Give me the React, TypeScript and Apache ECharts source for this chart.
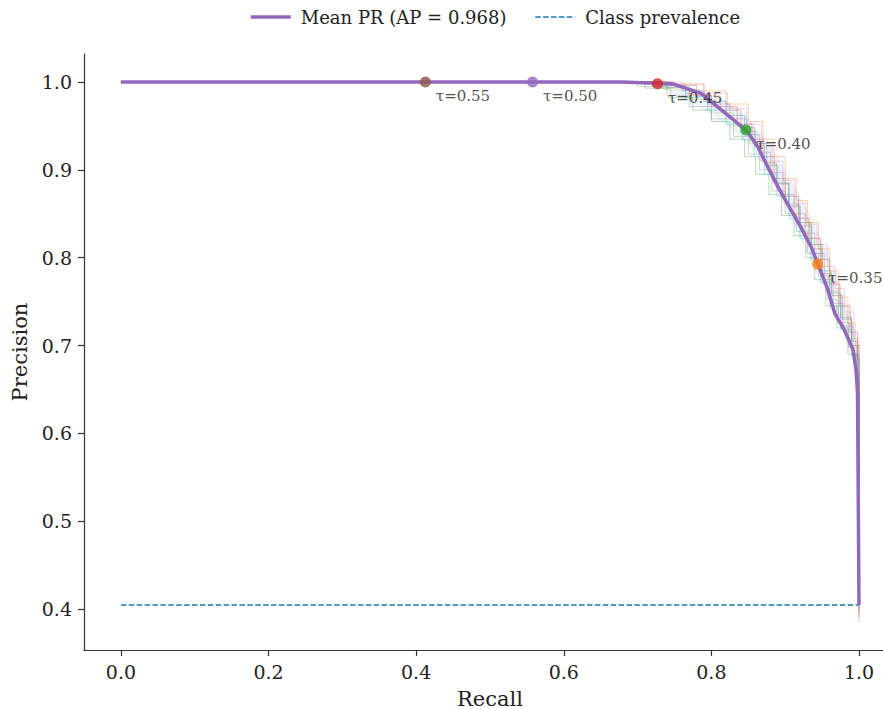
import React, { useEffect, useRef } from "react";
import * as echarts from "echarts";

const FONT = "'DejaVu Serif', serif";

// Mean PR curve (recall, precision)
const meanRecall = [0, 0.41, 0.557, 0.677, 0.727, 0.749, 0.786, 0.808, 0.83, 0.849, 0.863, 0.876, 0.89, 0.908, 0.921, 0.935, 0.944, 0.958, 0.967, 0.98, 0.992, 0.996, 0.998, 1.0];
const meanPrecision = [1, 1, 1, 1.0, 0.9985, 0.9977, 0.987, 0.972, 0.957, 0.943, 0.926, 0.904, 0.881, 0.854, 0.835, 0.8125, 0.7936, 0.763, 0.737, 0.718, 0.695, 0.672, 0.646, 0.4045];

// Class prevalence
const prevalence = 0.4045;

// Threshold markers
const tauLabels = ["τ=0.55", "τ=0.50", "τ=0.45", "τ=0.40", "τ=0.35"];
const tauRecall = [0.4125, 0.5577, 0.727, 0.8467, 0.944];
const tauPrecision = [1.0, 1.0, 0.998, 0.9453, 0.7928];
const tauColors = ["#8c564b", "#9467bd", "#d62728", "#2ca02c", "#ff7f0e"];

// Per-fold curves (thin, translucent)
const foldColors = ["#1f77b4", "#ff7f0e", "#2ca02c", "#d62728", "#9467bd", "#8c564b", "#e377c2", "#7f7f7f", "#bcbd22", "#17becf"];
const foldA = [[0, 1], [0.69, 1], [0.72, 0.996], [0.76, 0.99], [0.79, 0.978], [0.82, 0.962], [0.845, 0.944], [0.86, 0.93], [0.875, 0.905], [0.89, 0.885], [0.905, 0.86], [0.92, 0.84], [0.935, 0.815], [0.95, 0.785], [0.962, 0.76], [0.975, 0.732], [0.99, 0.705], [0.998, 0.67], [1, 0.64], [1, 0.405]];
const foldB = [[0, 1], [0.72, 1], [0.75, 0.998], [0.79, 0.99], [0.82, 0.975], [0.85, 0.955], [0.87, 0.935], [0.885, 0.915], [0.9, 0.89], [0.915, 0.865], [0.93, 0.84], [0.945, 0.81], [0.96, 0.785], [0.972, 0.755], [0.985, 0.725], [0.995, 0.7], [1, 0.665], [1, 0.39]];
const foldC = [[0, 1], [0.67, 1], [0.71, 0.993], [0.745, 0.982], [0.775, 0.968], [0.8, 0.955], [0.825, 0.935], [0.845, 0.915], [0.86, 0.895], [0.878, 0.872], [0.895, 0.848], [0.912, 0.825], [0.928, 0.8], [0.94, 0.775], [0.955, 0.745], [0.97, 0.72], [0.985, 0.69], [0.997, 0.66], [1, 0.63], [1, 0.41]];
const foldD = [[0, 1], [0.7, 1], [0.74, 0.994], [0.77, 0.985], [0.8, 0.972], [0.835, 0.952], [0.855, 0.935], [0.87, 0.915], [0.885, 0.89], [0.9, 0.87], [0.918, 0.845], [0.932, 0.822], [0.948, 0.798], [0.96, 0.77], [0.974, 0.745], [0.988, 0.715], [0.998, 0.685], [1, 0.65], [1, 0.395]];
const foldE = [[0, 1], [0.68, 1], [0.73, 0.997], [0.765, 0.987], [0.795, 0.975], [0.825, 0.958], [0.848, 0.94], [0.865, 0.92], [0.88, 0.897], [0.897, 0.872], [0.912, 0.85], [0.927, 0.828], [0.94, 0.805], [0.953, 0.775], [0.965, 0.748], [0.978, 0.722], [0.992, 0.69], [1, 0.655], [1, 0.4]];
const foldF = [[0, 1], [0.71, 1], [0.745, 0.996], [0.78, 0.984], [0.812, 0.968], [0.84, 0.948], [0.858, 0.928], [0.872, 0.908], [0.888, 0.884], [0.905, 0.858], [0.92, 0.836], [0.936, 0.81], [0.95, 0.782], [0.963, 0.757], [0.977, 0.73], [0.99, 0.7], [1, 0.67], [1, 0.385]];
const foldG = [[0, 1], [0.73, 1], [0.76, 0.997], [0.79, 0.987], [0.822, 0.97], [0.848, 0.952], [0.868, 0.93], [0.882, 0.91], [0.897, 0.888], [0.913, 0.862], [0.928, 0.838], [0.943, 0.815], [0.957, 0.79], [0.968, 0.765], [0.98, 0.738], [0.993, 0.708], [1, 0.68], [1, 0.405]];
const foldH = [[0, 1], [0.66, 1], [0.7, 0.995], [0.74, 0.985], [0.77, 0.972], [0.8, 0.958], [0.83, 0.938], [0.85, 0.918], [0.865, 0.9], [0.882, 0.876], [0.9, 0.85], [0.915, 0.83], [0.93, 0.805], [0.945, 0.78], [0.958, 0.752], [0.972, 0.726], [0.986, 0.698], [0.997, 0.668], [1, 0.64], [1, 0.41]];
const foldI = [[0, 1], [0.7, 1], [0.735, 0.992], [0.77, 0.98], [0.805, 0.965], [0.83, 0.95], [0.852, 0.93], [0.867, 0.91], [0.883, 0.887], [0.9, 0.862], [0.916, 0.84], [0.933, 0.815], [0.947, 0.79], [0.96, 0.762], [0.972, 0.735], [0.985, 0.708], [0.996, 0.678], [1, 0.645], [1, 0.4]];
const foldJ = [[0, 1], [0.69, 1], [0.73, 0.994], [0.765, 0.983], [0.795, 0.968], [0.82, 0.952], [0.842, 0.934], [0.858, 0.915], [0.872, 0.895], [0.888, 0.87], [0.905, 0.845], [0.92, 0.822], [0.935, 0.798], [0.948, 0.772], [0.96, 0.745], [0.975, 0.718], [0.99, 0.688], [0.999, 0.66], [1, 0.635], [1, 0.405]];
const folds = [foldA, foldB, foldC, foldD, foldE, foldF, foldG, foldH, foldI, foldJ];

// Spread band around the mean
const bandRecall = [0.7, 0.73, 0.76, 0.79, 0.82, 0.85, 0.87, 0.89, 0.91, 0.93, 0.95, 0.97, 0.985, 0.995, 1.0];
const bandUpper = [1.0, 1.0, 0.997, 0.99, 0.978, 0.96, 0.94, 0.915, 0.885, 0.855, 0.82, 0.78, 0.745, 0.715, 0.68];
const bandLower = [1.0, 0.993, 0.983, 0.968, 0.952, 0.93, 0.905, 0.875, 0.84, 0.805, 0.768, 0.73, 0.7, 0.67, 0.64];

// Axis ticks
const xTicks = [0, 0.2, 0.4, 0.6, 0.8, 1.0];
const yTicks = [0.4, 0.5, 0.6, 0.7, 0.8, 0.9, 1.0];

const MEAN_NAME = "Mean PR (AP = 0.968)";
const PREV_NAME = "Class prevalence";

export default function App() {
  const ref = useRef<HTMLDivElement>(null);
  useEffect(() => {
    if (!ref.current) return;
    const chart = echarts.init(ref.current, undefined, { renderer: "svg" });
    const axisCommon = {
      type: "value" as const,
      axisLine: { show: true, onZero: false, lineStyle: { color: "#333", width: 1.2 } },
      axisTick: { show: true, length: 6, lineStyle: { color: "#333", width: 1.2 } },
      splitLine: { show: false },
      nameTextStyle: { fontFamily: FONT, fontSize: 21, color: "#222" },
    };
    const series: any[] = [];
    series.push({
      type: "custom",
      silent: true,
      z: 1,
      data: [0],
      renderItem: (_p: any, api: any) => {
        const pts: number[][] = [];
        for (let i = 0; i < bandRecall.length; i++) pts.push(api.coord([bandRecall[i], bandUpper[i]]));
        for (let i = bandRecall.length - 1; i >= 0; i--) pts.push(api.coord([bandRecall[i], bandLower[i]]));
        return { type: "polygon", shape: { points: pts }, style: { fill: "rgba(31,119,180,0.08)", stroke: "none" } };
      },
    });
    folds.forEach((f, i) => {
      series.push({
        type: "line",
        name: "fold" + i,
        data: f,
        step: "end",
        symbol: "none",
        silent: true,
        z: 2,
        lineStyle: { color: foldColors[i % foldColors.length], width: 1, opacity: 0.35 },
      });
    });
    series.push({
      type: "line",
      name: MEAN_NAME,
      data: meanRecall.map((r, i) => [r, meanPrecision[i]]),
      symbol: "none",
      z: 4,
      color: "#9467bd",
      lineStyle: { color: "#9467bd", width: 3.5 },
    });
    series.push({
      type: "line",
      name: PREV_NAME,
      data: [[0, prevalence], [1, prevalence]],
      symbol: "none",
      z: 3,
      color: "#1f77b4",
      lineStyle: { color: "#1f77b4", width: 1.5, type: [5.5, 2.4] },
    });
    series.push({
      type: "scatter",
      name: "thresholds",
      z: 5,
      symbolSize: 11,
      data: tauRecall.map((r, i) => ({
        value: [r, tauPrecision[i]],
        itemStyle: { color: tauColors[i] },
        label: { formatter: tauLabels[i] },
      })),
      label: {
        show: true,
        position: "right",
        distance: 5,
        offset: [0, 14],
        fontFamily: FONT,
        fontSize: 15,
        color: "#222",
      },
    });
    chart.setOption({
      animation: false,
      backgroundColor: "#fff",
      textStyle: { fontFamily: FONT },
      legend: {
        data: [
          { name: MEAN_NAME, lineStyle: { width: 3.5 } },
          { name: PREV_NAME, lineStyle: { width: 1.5 } },
        ],
        top: 3,
        left: 244,
        itemWidth: 40,
        itemHeight: 14,
        itemGap: 28,
        itemStyle: { opacity: 0 },
        textStyle: { fontFamily: FONT, fontSize: 18, color: "#222", padding: [0, 0, 0, 5] },
      },
      grid: { left: 84, top: 54, width: 811.9, height: 596, containLabel: false, outerBoundsMode: "none" },
      xAxis: {
        ...axisCommon,
        min: -0.05,
        max: 1.05,
        name: "Recall",
        nameLocation: "middle",
        nameGap: 38,
        axisTick: { ...axisCommon.axisTick, customValues: xTicks },
        axisLabel: { customValues: xTicks, fontFamily: FONT, fontSize: 19, color: "#222", margin: 12, formatter: (v: number) => v.toFixed(1) },
      },
      yAxis: {
        ...axisCommon,
        min: 0.3533,
        max: 1.0319,
        name: "Precision",
        nameLocation: "middle",
        nameGap: 52,
        axisTick: { ...axisCommon.axisTick, customValues: yTicks },
        axisLabel: { customValues: yTicks, fontFamily: FONT, fontSize: 19, color: "#222", margin: 12, formatter: (v: number) => v.toFixed(1) },
      },
      series,
    });
    return () => chart.dispose();
  }, []);
  return (
    <div style={{ position: "fixed", left: 0, top: 0, width: 883, height: 709, overflow: "hidden", background: "#fff" }}>
      <div ref={ref} style={{ width: 900, height: 709 }} />
    </div>
  );
}
